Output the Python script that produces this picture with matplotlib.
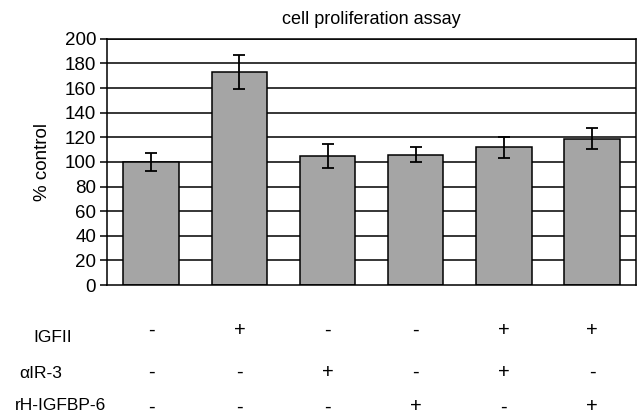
import matplotlib
matplotlib.use("Agg")
import matplotlib.pyplot as plt
import numpy as np

plt.rcParams["font.family"] = ["Liberation Sans", "DejaVu Sans"]

# data
means = [100, 173, 105, 106, 112, 119]
errors = [7, 14, 10, 6, 8.5, 8.5]
yticks = [0, 20, 40, 60, 80, 100, 120, 140, 160, 180, 200]

row_labels = ["IGFII", "\u03b1IR-3", "rH-IGFBP-6"]
igf2 = ["-", "+", "-", "-", "+", "+"]
air3 = ["-", "-", "+", "-", "+", "-"]
igfbp6 = ["-", "-", "-", "+", "-", "+"]

fig = plt.figure(figsize=(6.38, 4.18), dpi=100)
ax = fig.add_axes([0.168, 0.318, 0.829, 0.589])

x = np.arange(len(means))
for y in yticks[1:]:
    ax.axhline(y, color="black", linewidth=1.1, zorder=1)
ax.bar(x, means, width=0.63, color="#a5a5a5", edgecolor="black",
       linewidth=1.1, zorder=2)
ax.errorbar(x, means, yerr=errors, fmt="none", ecolor="black",
            elinewidth=1.3, capsize=4, capthick=1.3, zorder=3)

ax.set_xlim(-0.5, 5.5)
ax.set_ylim(0, 200)
ax.set_yticks(yticks)
ax.tick_params(axis="y", labelsize=13.5, length=5, width=1.1, direction="out",
               pad=3)
ax.set_xticks([])
for side in ["left", "bottom", "right", "top"]:
    ax.spines[side].set_linewidth(1.1)
    ax.spines[side].set_color("black")
ax.set_ylabel("% control", fontsize=13.5)
ax.yaxis.set_label_coords(-0.106, 0.5)
fig.text(0.168 + 0.829 / 2, 1 - 19 / 418, "cell proliferation assay",
         ha="center", va="center", fontsize=13)

# treatment table below the chart
rows = [igf2, air3, igfbp6]
sign_y = [330, 372, 407]
label_y = [338, 374, 406]
label_x = [53, 41, 60]
for label, signs, sy, ly, lx in zip(row_labels, rows, sign_y, label_y, label_x):
    fig.text(lx / 638, 1 - ly / 418, label, ha="center", va="center",
             fontsize=12.5)
    for i, s in enumerate(signs):
        xf = fig.transFigure.inverted().transform(
            ax.transData.transform((i, 0)))[0]
        fig.text(xf, 1 - sy / 418, s, ha="center", va="center", fontsize=14.5)

fig.savefig("out.png", dpi=100)
